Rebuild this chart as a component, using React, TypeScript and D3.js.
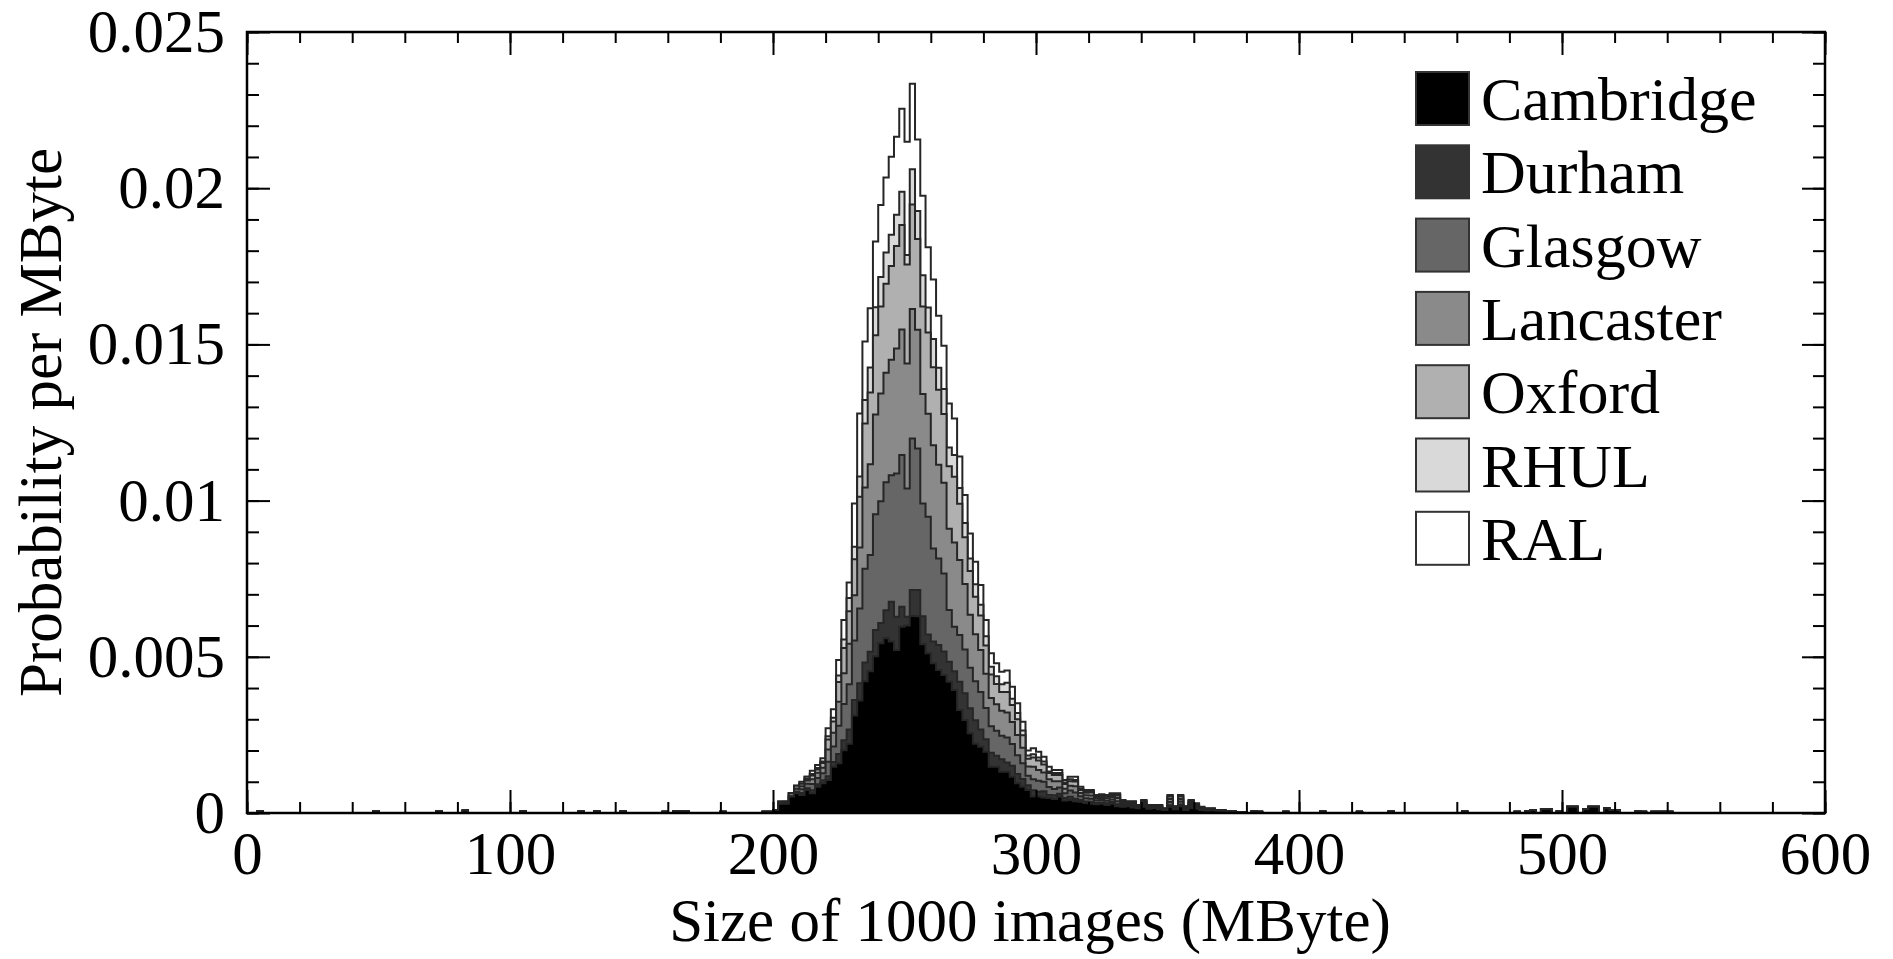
import React, { useEffect, useRef } from "react";
import * as d3 from "d3";

// sites, bottom of the stack first
const sites = ["Cambridge", "Durham", "Glasgow", "Lancaster", "Oxford", "RHUL", "RAL"];
const siteColors = ["#000000", "#333333", "#666666", "#8a8a8a", "#b0b0b0", "#d9d9d9", "#ffffff"];

const binWidth = 2; // MByte
const firstBin = 196; // first bin of the arrays below, then every 2 MByte up to 378
const perMille = 1e-3; // the arrays are in units of 0.001 per MByte

const cambridge = [
  0.04, 0.04, 0.1, 0.3, 0.3, 0.53, 0.63, 0.58, 0.74, 0.63, 0.84, 0.95, 1.06, 1.48, 1.59, 2.01, 2.22, 3.12, 3.6, 4.22,
  4.54, 5.02, 5.43, 5.59, 5.49, 5.22, 5.96, 6.0, 6.31, 6.3, 5.4, 5.11, 4.79, 4.58, 4.42, 4.2, 3.94, 3.3, 2.98, 2.55,
  2.22, 2.12, 1.96, 1.48, 1.48, 1.32, 1.32, 1.16, 0.95, 0.84, 0.74, 0.53, 0.53, 0.5, 0.48, 0.45, 0.52, 0.4, 0.42, 0.38,
  0.36, 0.32, 0.3, 0.28, 0.3, 0.26, 0.3, 0.22, 0.2, 0.22, 0.18, 0.15, 0.2, 0.14, 0.16, 0.12, 0.1, 0.2, 0.12, 0.22,
  0.1, 0.16, 0.14, 0.1, 0.08, 0.09, 0.07, 0.06, 0.04, 0.05, 0.03, 0.03,
];
const durham = [
  0, 0, 0, 0, 0.06, 0, 0.05, 0.06, 0.05, 0.1, 0.08, 0.1, 0.12, 0.15, 0.3, 0.32, 0.45, 0.5, 0.55, 0.6,
  0.62, 0.84, 0.65, 0.9, 1.27, 1.06, 0.64, 0.28, 0.83, 0.84, 0.9, 0.6, 0.7, 0.8, 0.75, 0.64, 0.6, 0.9, 0.85, 0.8,
  0.75, 0.55, 0.4, 0.45, 0.35, 0.4, 0.3, 0.35, 0.3, 0.25, 0.15, 0.2, 0.15, 0.2, 0.1, 0.12, 0.1, 0.08, 0.1, 0.08,
  0.06, 0.05, 0.06, 0.05, 0.04, 0.05, 0.05, 0.06, 0.03, 0.02, 0.03, 0.02, 0.04, 0.02, 0.02, 0.03, 0.01, 0.05, 0.02, 0.05,
  0.02, 0.04, 0.03, 0.02, 0.01, 0.01, 0.01, 0.01, 0, 0, 0, 0,
];
const glasgow = [
  0, 0, 0, 0.06, 0, 0, 0.1, 0.12, 0.15, 0.2, 0.2, 0.22, 0.46, 0.5, 0.9, 1.16, 1.45, 1.9, 2.4, 3.0,
  3.1, 3.7, 3.9, 4.1, 4.05, 4.59, 4.86, 4.11, 4.85, 4.53, 3.61, 3.77, 2.98, 2.77, 2.5, 1.66, 1.42, 1.5, 1.4, 1.3,
  1.25, 1.2, 1.0, 0.85, 0.8, 0.75, 0.8, 0.7, 0.6, 0.5, 0.3, 0.35, 0.35, 0.3, 0.25, 0.2, 0.2, 0.15, 0.2, 0.2,
  0.12, 0.1, 0.1, 0.08, 0.08, 0.08, 0.08, 0.1, 0.06, 0.04, 0.05, 0.03, 0.05, 0.03, 0.02, 0.03, 0.01, 0.1, 0.02, 0.1,
  0.03, 0.06, 0.04, 0.02, 0.02, 0.01, 0.01, 0.01, 0.01, 0, 0, 0,
];
const lancaster = [
  0, 0, 0, 0, 0, 0.1, 0, 0.1, 0.1, 0.15, 0.17, 0.18, 0.39, 0.44, 0.77, 0.98, 1.3, 1.45, 1.95, 2.6,
  2.9, 3.2, 3.45, 3.5, 3.7, 4.0, 4.02, 4.0, 4.14, 3.8, 3.5, 3.3, 3.3, 3.0, 2.9, 2.6, 2.7, 2.4, 2.1, 1.7,
  1.5, 1.35, 1.1, 0.9, 0.85, 0.8, 0.8, 0.7, 0.65, 0.5, 0.3, 0.4, 0.35, 0.3, 0.25, 0.25, 0.2, 0.15, 0.15, 0.2,
  0.1, 0.1, 0.1, 0.07, 0.06, 0.08, 0.08, 0.1, 0.05, 0.04, 0.05, 0.03, 0.05, 0.03, 0.02, 0.03, 0.01, 0.1, 0.02, 0.08,
  0.03, 0.06, 0.04, 0.02, 0.02, 0.02, 0.01, 0.01, 0, 0, 0, 0,
];
const oxford = [
  0, 0, 0, 0, 0, 0, 0.09, 0.08, 0.05, 0.12, 0.1, 0.15, 0.32, 0.36, 0.63, 0.81, 1.04, 1.15, 1.62, 2.05,
  2.3, 2.53, 2.78, 2.85, 3.0, 3.28, 3.34, 3.17, 3.35, 2.9, 2.8, 2.6, 2.5, 2.4, 2.2, 2.0, 2.1, 1.8, 1.5, 1.4,
  1.2, 1.1, 0.9, 0.75, 0.65, 0.6, 0.65, 0.55, 0.5, 0.4, 0.25, 0.3, 0.3, 0.25, 0.2, 0.2, 0.2, 0.15, 0.15, 0.15,
  0.1, 0.08, 0.1, 0.05, 0.06, 0.05, 0.06, 0.08, 0.04, 0.03, 0.04, 0.02, 0.04, 0.02, 0.02, 0.03, 0.01, 0.08, 0.02, 0.08,
  0.02, 0.05, 0.03, 0.02, 0.01, 0.01, 0, 0.01, 0, 0, 0, 0,
];
const rhul = [
  0, 0, 0, 0, 0, 0, 0, 0, 0.07, 0.05, 0.05, 0.05, 0.11, 0.12, 0.21, 0.27, 0.42, 0.4, 0.65, 0.75,
  0.8, 0.9, 0.95, 1.0, 1.0, 1.0, 1.07, 0.3, 1.13, 0.9, 1.0, 0.8, 0.9, 0.7, 0.8, 0.6, 0.7, 0.5, 0.45, 0.4,
  0.4, 0.35, 0.3, 0.25, 0.25, 0.25, 0.3, 0.2, 0.2, 0.15, 0.1, 0.1, 0.1, 0.1, 0.05, 0.06, 0.06, 0.05, 0.06, 0.05,
  0.04, 0.04, 0.03, 0.02, 0.03, 0.03, 0.03, 0.03, 0.02, 0.01, 0.01, 0, 0.02, 0.01, 0.01, 0.01, 0, 0.02, 0.01, 0.02,
  0.01, 0.02, 0.01, 0.01, 0, 0, 0, 0, 0, 0, 0, 0,
];
const ral = [
  0, 0, 0, 0, 0, 0, 0, 0.06, 0, 0.1, 0.1, 0.1, 0.25, 0.27, 0.5, 0.63, 0.5, 1.39, 2.02, 1.87,
  1.9, 2.1, 2.3, 2.4, 2.5, 2.5, 2.65, 3.63, 2.73, 2.29, 2.55, 1.93, 1.91, 1.67, 1.39, 1.41, 1.17, 1.01, 0.9, 0.8,
  0.72, 0.63, 0.52, 0.43, 0.41, 0.4, 0.39, 0.38, 0.31, 0.28, 0.16, 0.19, 0.18, 0.15, 0.15, 0.1, 0.1, 0.08, 0.08, 0.1,
  0.06, 0.05, 0.05, 0.03, 0.03, 0.03, 0.03, 0.04, 0.02, 0.02, 0.02, 0.01, 0.02, 0.01, 0.01, 0.01, 0.01, 0.03, 0.01, 0.03,
  0.01, 0.03, 0.02, 0.01, 0.01, 0.01, 0, 0, 0, 0, 0, 0,
];

// isolated small Cambridge entries away from the peak: [bin start, value per mille]
const cambridgeStray = [
  [4, 0.06], [48, 0.06], [72, 0.06], [82, 0.08], [104, 0.06], [126, 0.05], [132, 0.06], [142, 0.06],
  [158, 0.04], [162, 0.06], [164, 0.06], [166, 0.06], [180, 0.04],
  [382, 0.06], [384, 0.04], [394, 0.04], [408, 0.05], [422, 0.04], [434, 0.05], [462, 0.05],
  [482, 0.04], [486, 0.06], [488, 0.1], [492, 0.13], [494, 0.13], [498, 0.06], [502, 0.2], [504, 0.2],
  [508, 0.12], [510, 0.2], [512, 0.2], [516, 0.15], [518, 0.1], [520, 0.1], [528, 0.06], [530, 0.04],
  [534, 0.04], [536, 0.04], [538, 0.04], [540, 0.04],
];

const xTicks = [0, 100, 200, 300, 400, 500, 600];
const xTickLabels = ["0", "100", "200", "300", "400", "500", "600"];
const yTicks = [0, 0.005, 0.01, 0.015, 0.02, 0.025];
const yTickLabels = ["0", "0.005", "0.01", "0.015", "0.02", "0.025"];

const font = "'Liberation Serif', 'Times New Roman', serif";

const Chart = () => {
  const chartRef = useRef<SVGSVGElement>(null);

  useEffect(() => {
    const width = 1893;
    const height = 959;
    const svg = d3.select(chartRef.current).attr("viewBox", [0, 0, width, height]);
    svg.selectAll("*").remove();

    const x = d3.scaleLinear().domain([0, 600]).range([247, 1825]);
    const y = d3.scaleLinear().domain([0, 0.025]).range([813, 32]);

    // one row per 2 MByte bin over the whole axis
    const rows: any[] = d3.range(0, 600, binWidth).map((s) => {
      const r: any = { x0: s };
      sites.forEach((k) => (r[k] = 0));
      return r;
    });
    const series = [cambridge, durham, glasgow, lancaster, oxford, rhul, ral];
    series.forEach((vals, si) =>
      vals.forEach((v, i) => {
        rows[(firstBin + i * binWidth) / binWidth][sites[si]] += v * perMille;
      })
    );
    cambridgeStray.forEach(([s, v]) => (rows[s / binWidth].Cambridge += v * perMille));

    const stacked = d3.stack<any>().keys(sites)(rows);

    svg
      .append("defs")
      .append("clipPath")
      .attr("id", "plotClip")
      .append("rect")
      .attr("x", x(0))
      .attr("y", y(0.025))
      .attr("width", x(600) - x(0))
      .attr("height", y(0) - y(0.025));

    const area = d3
      .area<any>()
      .curve(d3.curveStepAfter)
      .x((d) => x(d.x))
      .y0(y(0))
      .y1((d) => y(d.top));

    // largest cumulative layer first so the lower sites paint over it
    const hist = svg.append("g").attr("clip-path", "url(#plotClip)");
    stacked
      .slice()
      .reverse()
      .forEach((layer) => {
        const pts = layer.map((d) => ({ x: d.data.x0, top: d[1] }));
        pts.push({ x: 600, top: pts[pts.length - 1].top });
        hist
          .append("path")
          .attr("d", area(pts))
          .attr("fill", siteColors[layer.index])
          .attr("stroke", "#262626")
          .attr("stroke-width", 2)
          .attr("stroke-linejoin", "miter");
      });

    const styleAxis = (g) => {
      g.select(".domain").remove();
      g.selectAll("line").attr("stroke", "#000").attr("stroke-width", 2);
      g.selectAll("text").attr("font-size", 61).attr("font-family", font).attr("fill", "#000");
    };

    // bottom
    svg
      .append("g")
      .attr("transform", `translate(0,${y(0)})`)
      .call(
        d3.axisBottom(x).tickValues(xTicks).tickSizeInner(-23).tickSizeOuter(0).tickPadding(18)
          .tickFormat((d, i) => xTickLabels[i])
      )
      .call(styleAxis);
    svg
      .append("g")
      .attr("transform", `translate(0,${y(0)})`)
      .call(d3.axisBottom(x).ticks(30).tickSizeInner(-11).tickSizeOuter(0).tickFormat(() => ""))
      .call(styleAxis);
    // top
    svg
      .append("g")
      .attr("transform", `translate(0,${y(0.025)})`)
      .call(d3.axisTop(x).tickValues(xTicks).tickSizeInner(-23).tickSizeOuter(0).tickFormat(() => ""))
      .call(styleAxis);
    svg
      .append("g")
      .attr("transform", `translate(0,${y(0.025)})`)
      .call(d3.axisTop(x).ticks(30).tickSizeInner(-11).tickSizeOuter(0).tickFormat(() => ""))
      .call(styleAxis);
    // left
    svg
      .append("g")
      .attr("transform", `translate(${x(0)},0)`)
      .call(
        d3.axisLeft(y).tickValues(yTicks).tickSizeInner(-23).tickSizeOuter(0).tickPadding(22)
          .tickFormat((d, i) => yTickLabels[i])
      )
      .call(styleAxis);
    svg
      .append("g")
      .attr("transform", `translate(${x(0)},0)`)
      .call(d3.axisLeft(y).ticks(25).tickSizeInner(-12).tickSizeOuter(0).tickFormat(() => ""))
      .call(styleAxis);
    // right
    svg
      .append("g")
      .attr("transform", `translate(${x(600)},0)`)
      .call(d3.axisRight(y).tickValues(yTicks).tickSizeInner(-23).tickSizeOuter(0).tickFormat(() => ""))
      .call(styleAxis);
    svg
      .append("g")
      .attr("transform", `translate(${x(600)},0)`)
      .call(d3.axisRight(y).ticks(25).tickSizeInner(-12).tickSizeOuter(0).tickFormat(() => ""))
      .call(styleAxis);

    // frame
    svg
      .append("rect")
      .attr("x", x(0))
      .attr("y", y(0.025))
      .attr("width", x(600) - x(0))
      .attr("height", y(0) - y(0.025))
      .attr("fill", "none")
      .attr("stroke", "#000")
      .attr("stroke-width", 2.5);

    // axis titles
    svg
      .append("text")
      .attr("x", 1030)
      .attr("y", 941)
      .attr("text-anchor", "middle")
      .attr("font-family", font)
      .attr("font-size", 61)
      .text("Size of 1000 images (MByte)");
    svg
      .append("text")
      .attr("transform", `translate(61,${(y(0) + y(0.025)) / 2}) rotate(-90)`)
      .attr("text-anchor", "middle")
      .attr("font-family", font)
      .attr("font-size", 61)
      .text("Probability per MByte");

    // legend
    const legend = svg.append("g").attr("transform", "translate(1416,72)");
    const rowsG = legend
      .selectAll("g")
      .data(sites)
      .join("g")
      .attr("transform", (d, i) => `translate(0,${i * 73.3})`);
    rowsG
      .append("rect")
      .attr("width", 53)
      .attr("height", 53)
      .attr("fill", (d, i) => siteColors[i])
      .attr("stroke", "#333")
      .attr("stroke-width", 2);
    rowsG
      .append("text")
      .attr("x", 65)
      .attr("y", 48)
      .attr("font-family", font)
      .attr("font-size", 62)
      .text((d) => d);
  }, []);

  return (
    <svg
      ref={chartRef}
      width={1893}
      height={959}
      style={{ position: "absolute", left: 0, top: 0, display: "block", background: "#fff" }}
    ></svg>
  );
};

export default function App() {
  return <Chart />;
}
